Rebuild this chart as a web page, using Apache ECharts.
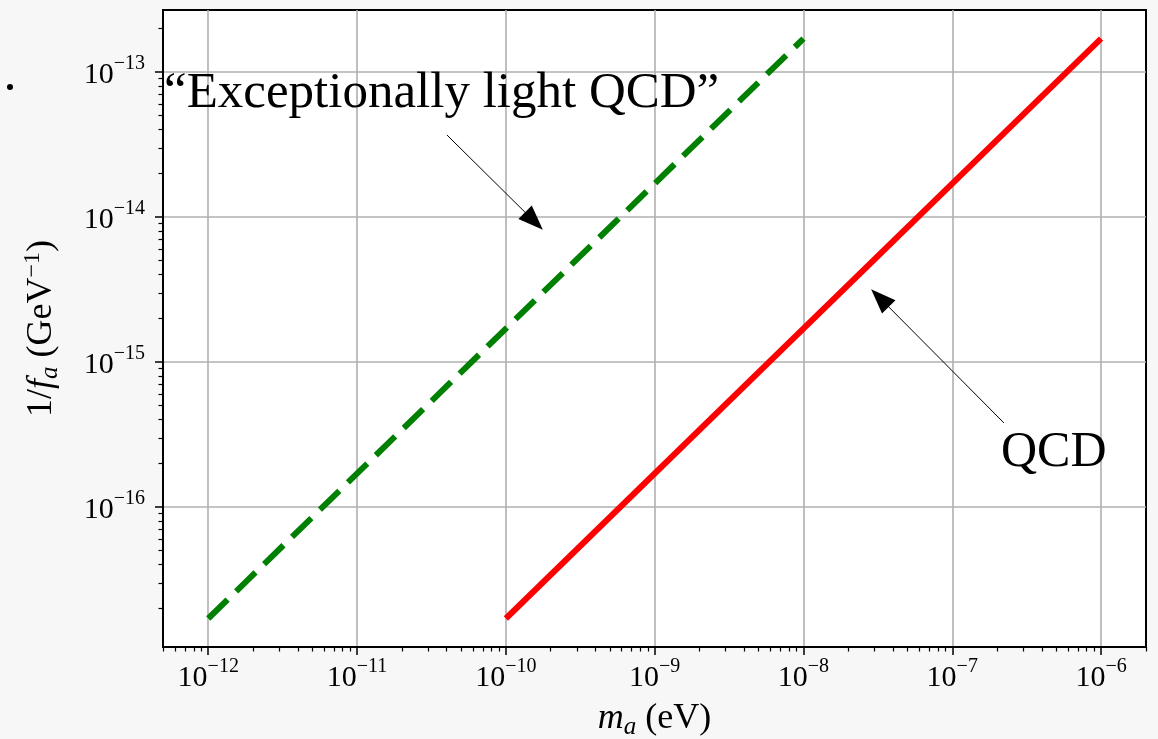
<!DOCTYPE html>
<html>
<head>
<meta charset="utf-8">
<script src="https://cdn.jsdelivr.net/npm/echarts@6/dist/echarts.min.js"></script>
<style>
html,body{margin:0;padding:0;background:#f7f7f7;}
#c{width:1158px;height:739px;}
</style>
</head>
<body>
<div id="c"></div>
<script>
// ---- data ----
const lightQcdMass = [1e-12, 1e-8];          // m_a (eV)
const lightQcdInvFa = [1.7e-17, 1.7e-13];    // 1/f_a (GeV^-1)
const qcdMass = [1e-10, 1e-6];
const qcdInvFa = [1.7e-17, 1.7e-13];
const xTickExponents = [-12, -11, -10, -9, -8, -7, -6];
const yTickExponents = [-16, -15, -14, -13];
const xRange = [Math.pow(10, -12.304), Math.pow(10, -5.698)];
const yRange = [Math.pow(10, -16.966), Math.pow(10, -12.572)];

const FONT = 'Liberation Serif';
const xMajor = xTickExponents.map(e => Math.pow(10, e));
const yMajor = yTickExponents.map(e => Math.pow(10, e));
function minorValues(range) {
  const out = [];
  const lo = Math.floor(Math.log10(range[0])), hi = Math.ceil(Math.log10(range[1]));
  for (let e = lo; e <= hi; e++) {
    for (let k = 2; k <= 9; k++) {
      const v = k * Math.pow(10, e);
      if (v > range[0] && v < range[1]) out.push(v);
    }
  }
  return out;
}
const xMinor = minorValues(xRange);
const yMinor = minorValues(yRange);

function fmt(v) {
  const e = Math.round(Math.log10(v));
  return '{b|10}{s|' + (e < 0 ? '\u2212' : '') + Math.abs(e) + '}';
}
const labelRich = {
  b: {fontFamily: FONT, fontSize: 30, color: '#000', lineHeight: 36, verticalAlign: 'bottom'},
  s: {fontFamily: FONT, fontSize: 20, color: '#000', lineHeight: 36, verticalAlign: 'top'}
};
const nameRich = {
  i: {fontFamily: FONT, fontStyle: 'italic', fontSize: 36, color: '#000'},
  sub: {fontFamily: FONT, fontStyle: 'italic', fontSize: 25, color: '#000', verticalAlign: 'bottom', lineHeight: 42},
  sup: {fontFamily: FONT, fontSize: 24, color: '#000', verticalAlign: 'top', lineHeight: 42},
  n: {fontFamily: FONT, fontSize: 36, color: '#000'}
};

const chart = echarts.init(document.getElementById('c'), null, {renderer: 'canvas'});
const option = {
  backgroundColor: '#f7f7f7',
  animation: false,
  grid: {left: 163, top: 10, right: 12, bottom: 92, show: true, backgroundColor: '#ffffff',
         borderColor: '#000', borderWidth: 2, containLabel: false, outerBoundsMode: 'none'},
  xAxis: [{
    type: 'log', logBase: 10, min: xRange[0], max: xRange[1], position: 'bottom',
    axisLine: {show: true, lineStyle: {color: '#000', width: 2}},
    axisTick: {show: true, inside: false, length: 8, lineStyle: {color: '#000', width: 1.5}, customValues: xMajor},
    axisLabel: {show: true, margin: 10, fontSize: 30, fontFamily: FONT, color: '#000',
                formatter: fmt, rich: labelRich, customValues: xMajor},
    splitLine: {show: true, lineStyle: {color: '#b0b0b0', width: 1.6}},
    minorTick: {show: false}, minorSplitLine: {show: false},
    name: '{i|m}{sub|a}{n| (eV)}', nameLocation: 'middle', nameGap: 51,
    nameTextStyle: {fontSize: 36, fontFamily: FONT, color: '#000', rich: nameRich}
  }, {
    type: 'log', logBase: 10, min: xRange[0], max: xRange[1], position: 'bottom', offset: 0,
    axisLine: {show: false},
    axisTick: {show: true, inside: false, length: 4.5, lineStyle: {color: '#000', width: 1.2}, customValues: xMinor},
    axisLabel: {show: false}, splitLine: {show: false}
  }],
  yAxis: [{
    type: 'log', logBase: 10, min: yRange[0], max: yRange[1], position: 'left',
    axisLine: {show: true, lineStyle: {color: '#000', width: 2}},
    axisTick: {show: true, inside: false, length: 8, lineStyle: {color: '#000', width: 1.5}, customValues: yMajor},
    axisLabel: {show: true, margin: 18, fontSize: 30, fontFamily: FONT, color: '#000',
                formatter: fmt, rich: labelRich, customValues: yMajor},
    splitLine: {show: true, lineStyle: {color: '#b0b0b0', width: 1.6}},
    name: '{n|1/}{i|f}{sub|a}{n| (GeV}{sup|\u22121}{n|)}', nameLocation: 'middle', nameGap: 100, nameRotate: 90,
    nameTextStyle: {fontSize: 36, fontFamily: FONT, color: '#000', rich: nameRich}
  }, {
    type: 'log', logBase: 10, min: yRange[0], max: yRange[1], position: 'left', offset: 0,
    axisLine: {show: false},
    axisTick: {show: true, inside: false, length: 4.5, lineStyle: {color: '#000', width: 1.2}, customValues: yMinor},
    axisLabel: {show: false}, splitLine: {show: false}
  }],
  series: [{
    name: 'Exceptionally light QCD', type: 'line', xAxisIndex: 0, yAxisIndex: 0,
    data: lightQcdMass.map((m, i) => [m, lightQcdInvFa[i]]),
    showSymbol: false, symbol: 'none',
    lineStyle: {color: '#008000', width: 6, type: [27, 12], cap: 'butt'},
    z: 3,
    markLine: {
      silent: true, symbol: ['none', 'triangle'], symbolSize: [19, 25],
      label: {show: false},
      lineStyle: {color: '#000', width: 1, type: 'solid'},
      itemStyle: {color: '#000'},
      data: [[{coord: [Math.pow(10, -10.396), Math.pow(10, -13.434)]},
              {coord: [Math.pow(10, -9.811), Math.pow(10, -14.028)]}]]
    }
  }, {
    name: 'QCD', type: 'line', xAxisIndex: 0, yAxisIndex: 0,
    data: qcdMass.map((m, i) => [m, qcdInvFa[i]]),
    showSymbol: false, symbol: 'none',
    lineStyle: {color: '#ff0000', width: 6, cap: 'butt'},
    z: 3,
    markLine: {
      silent: true, symbol: ['none', 'triangle'], symbolSize: [19, 25],
      label: {show: false},
      lineStyle: {color: '#000', width: 1, type: 'solid'},
      itemStyle: {color: '#000'},
      data: [[{coord: [Math.pow(10, -6.653), Math.pow(10, -15.42)]},
              {coord: [Math.pow(10, -7.486), Math.pow(10, -14.559)]}]]
    }
  }],
  graphic: [
    {type: 'text', left: 164, top: 68, z: 10,
     style: {text: '\u201CExceptionally light QCD\u201D', font: '51px "Liberation Serif"', fill: '#000'}},
    {type: 'text', left: 1001, top: 428, z: 10,
     style: {text: 'QCD', font: '50px "Liberation Serif"', fill: '#000'}},
    {type: 'circle', shape: {cx: 10, cy: 87, r: 3}, style: {fill: '#000'}}
  ]
};
chart.setOption(option);
</script>
</body>
</html>
